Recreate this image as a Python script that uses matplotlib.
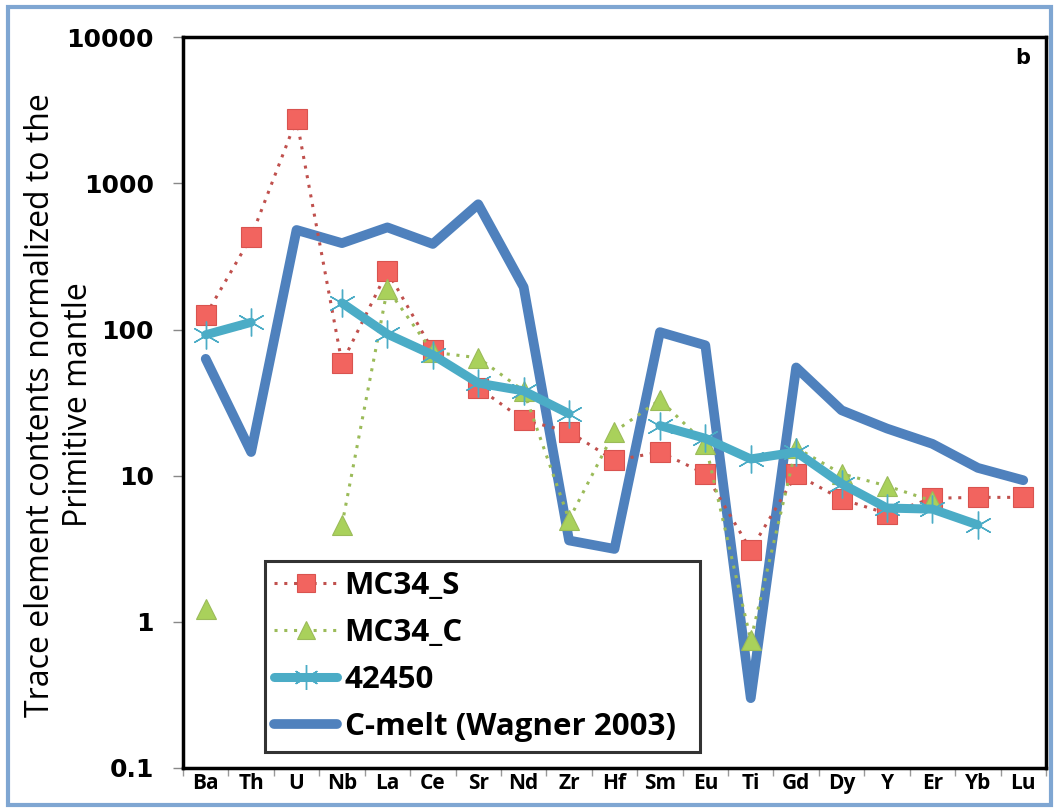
import numpy as np
import matplotlib
matplotlib.use("Agg")
import matplotlib.pyplot as plt
from matplotlib.patches import Rectangle
from matplotlib.ticker import FixedLocator, NullLocator

# ---------------------------------------------------------
# Datos
# ---------------------------------------------------------
elements = ["Ba", "Th", "U", "Nb", "La", "Ce", "Sr", "Nd", "Zr", "Hf",
            "Sm", "Eu", "Ti", "Gd", "Dy", "Y", "Er", "Yb", "Lu"]

mc34_s = [125, 430, 2750, 59, 250, 72, 40, 24, 20, 12.7,
          14.5, 10.3, 3.1, 10.2, 6.9, 5.5, 7.0, 7.1, 7.1]

mc34_c = [1.23, np.nan, np.nan, 4.6, 190, 70, 64, 38, 5.0, 20,
          33, 16.5, 0.75, 15.5, 10.3, 8.5, 6.7, np.nan, np.nan]

s42450 = [92, 112, np.nan, 152, 93, 67, 43, 38, 26.5, np.nan,
          22, 18, 13, 14.5, 8.8, 6.0, 5.9, 4.6, np.nan]

c_melt = [63, 14.5, 480, 390, 500, 385, 720, 195, 3.6, 3.15,
          96, 78, 0.30, 55, 28, 21, 16.5, 11.3, 9.3]

x = np.arange(len(elements))

# ---------------------------------------------------------
# Figura
# ---------------------------------------------------------
fig = plt.figure(figsize=(10.59, 8.10), dpi=100)
ax = fig.add_axes([0.1728, 0.052, 0.8149, 0.902])

ax.plot(x, c_melt, color="#4F81BD", lw=7, solid_joinstyle="round",
        solid_capstyle="round", label="C-melt (Wagner 2003)", zorder=2)
ax.plot(x, mc34_s, color="#C0504D", lw=2.2, linestyle=(0, (1, 2.2)),
        marker="s", markersize=15, markerfacecolor="#F2645F",
        markeredgecolor="#D9534F", markeredgewidth=0.8,
        label="MC34_S", zorder=3)
ax.plot(x, mc34_c, color="#9BBB59", lw=2.2, linestyle=(0, (1, 2.2)),
        marker="^", markersize=14, markerfacecolor="#A9D15B",
        markeredgecolor="#9BBB59", markeredgewidth=0.8,
        label="MC34_C", zorder=3)
ax.plot(x, s42450, color="#4BACC6", lw=6.5, marker=(6, 2, 0),
        markersize=20, markeredgecolor="#4BACC6", markeredgewidth=1.0,
        solid_capstyle="round", label="42450", zorder=4)

# ---------------------------------------------------------
# Ejes
# ---------------------------------------------------------
ax.set_yscale("log")
ax.set_ylim(0.1, 10000)
ax.set_xlim(-0.5, len(elements) - 0.5)

yt = [0.1, 1, 10, 100, 1000, 10000]
ax.yaxis.set_major_locator(FixedLocator(yt))
ax.yaxis.set_minor_locator(NullLocator())
ax.set_yticklabels(["0.1", "1", "10", "100", "1000", "10000"],
                   fontsize=18, fontweight="bold", family="DejaVu Sans")
ax.tick_params(axis="y", which="major", length=7, width=1, color="#888888",
               pad=14)

ax.set_xticks(x)
ax.set_xticklabels(elements, fontsize=15, fontweight="bold",
                   family="Open Sans")
ax.set_xticks(np.arange(len(elements) + 1) - 0.5, minor=True)
ax.tick_params(axis="x", which="major", length=0, pad=4)
ax.tick_params(axis="x", which="minor", length=6, width=1, color="#999999")

for s in ax.spines.values():
    s.set_linewidth(2.5)
    s.set_color("black")

# etiqueta del eje y (dos lineas centradas)
fig.text(0.038, 0.500, "Trace element contents normalized to the",
         rotation=90, ha="center", va="center", fontsize=23,
         family="Open Sans", fontweight="medium")
fig.text(0.074, 0.500, "Primitive mantle", rotation=90, ha="center",
         va="center", fontsize=23, family="Open Sans", fontweight="medium")

ax.text(0.982, 0.985, "b", transform=ax.transAxes, ha="right", va="top",
        fontsize=15, fontweight="bold")

# Leyenda
handles, labels = ax.get_legend_handles_labels()
orden = [1, 2, 3, 0]
leg = ax.legend([handles[i] for i in orden], [labels[i] for i in orden],
                loc="lower left", bbox_to_anchor=(0.095, 0.022, 0.504, 0.265),
                mode="expand", borderaxespad=0, frameon=True, fancybox=False,
                borderpad=0.3, handlelength=2.0, handletextpad=0.25,
                labelspacing=0.55, markerscale=0.9,
                prop={"family": "Open Sans", "weight": "bold", "size": 22.5})
leg.get_frame().set_edgecolor("black")
leg.get_frame().set_linewidth(2.2)

# Marco exterior azul
fig.patches.append(Rectangle((0.008, 0.006), 0.984, 0.985,
                             transform=fig.transFigure, fill=False,
                             edgecolor="#7FA6D2", linewidth=3))

fig.savefig("out.png", dpi=100)
